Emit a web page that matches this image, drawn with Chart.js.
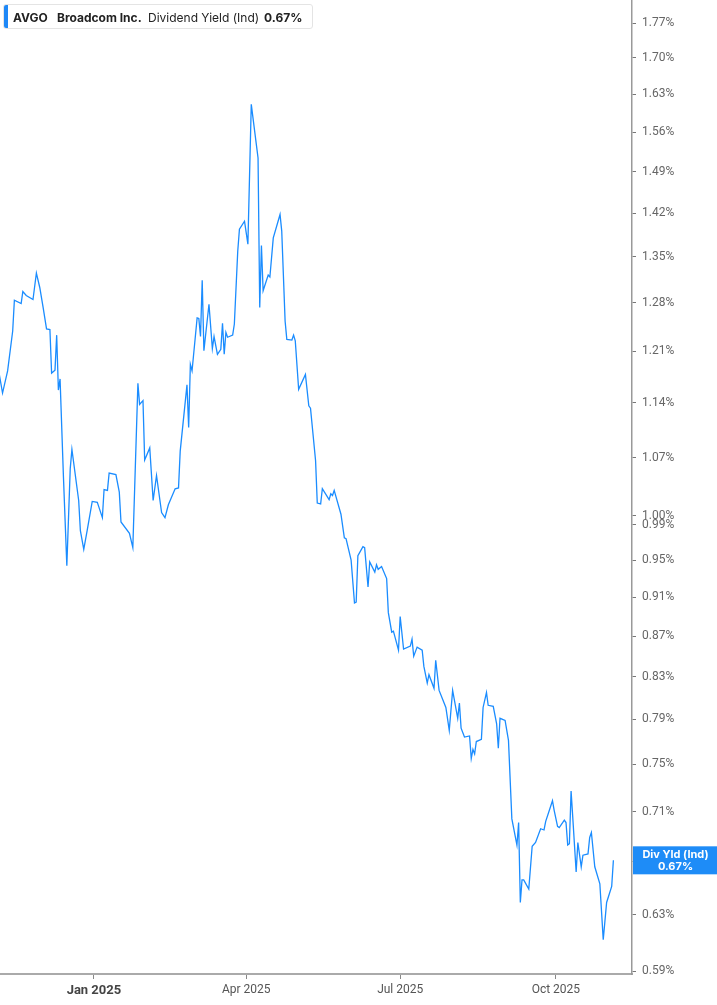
<!DOCTYPE html>
<html>
<head>
<meta charset="utf-8">
<script src="https://cdn.jsdelivr.net/npm/chart.js@4.4.1/dist/chart.umd.min.js"></script>
<style>
  body { margin: 0; background: #fff; }
  #wrap { position: relative; width: 717px; height: 1005px; }
  #legend {
    position: absolute; left: 3px; top: 4px; width: 310px; height: 25px;
    background: #fff; border: 1px solid #e4e4e4; border-radius: 3px;
    font-family: Inter, "Noto Sans", sans-serif; font-size: 12px; color: #222;
    line-height: 25px; box-sizing: border-box; white-space: nowrap;
  }
  #legend .bar { position: absolute; left: 0; top: 0; bottom: 0; width: 4px; background: #1e88f7; border-radius: 2px 0 0 2px; }
  #legend span { position: absolute; top: 0; }
</style>
</head>
<body>
<div id="wrap">
  <canvas id="grafico"></canvas>
  <div id="legend">
    <div class="bar"></div>
    <span style="left:9px;font-weight:700">AVGO</span>
    <span style="left:53px;font-weight:700">Broadcom Inc.</span>
    <span style="left:144px">Dividend Yield (Ind)</span>
    <span style="left:260px;font-weight:700">0.67%</span>
  </div>
</div>
<script>
// dias desde 2025-01-01
var dayOffsets = [-56,-54,-51,-48,-47,-43,-42,-40,-36,-34,-32,-30,-28,-26,-25,-23,-22,-21,-20,-18,
  -16,-14,-13,-9,-8,-6,-4,-1,2,3,5,6,8,9,13,15,16,21,23,26,27,29,30,33,35,37,40,42,44,48,50,51,
  55,56,57,58,61,62,63,64,65,68,70,71,73,75,76,77,78,79,82,83,85,86,89,91,93,97,98,99,100,103,104,
  106,110,111,113,114,117,118,119,121,125,127,128,131,132,134,135,139,140,141,142,146,148,149,152,
  154,155,156,159,160,162,163,166,167,168,170,173,174,176,177,180,181,183,187,188,189,191,194,195,
  197,198,201,202,204,208,210,212,215,216,217,219,222,223,224,225,226,229,230,232,233,236,238,239,
  240,243,245,247,250,251,252,253,254,257,259,261,264,266,267,271,272,274,275,278,279,280,281,282,
  283,285,286,288,289,292,293,294,296,299,301,303,306,307];

var yieldPct = [1.179,1.153,1.183,1.239,1.284,1.279,1.297,1.291,1.285,1.325,1.303,1.273,1.242,1.241,1.180,1.184,1.233,1.157,1.172,1.046,
  0.944,1.056,1.080,1.018,0.983,0.962,0.983,1.017,1.016,1.010,0.998,1.031,1.030,1.051,1.049,1.028,0.993,0.980,0.964,1.166,1.138,1.143,1.067,1.082,1.018,1.048,1.004,0.998,1.013,1.032,1.033,1.078,
  1.164,1.108,1.192,1.183,1.258,1.257,1.231,1.314,1.211,1.278,1.214,1.231,1.206,1.213,1.250,1.206,1.237,1.230,1.233,1.249,1.359,1.394,1.407,1.370,1.611,1.514,1.273,1.368,1.298,1.322,1.319,
  1.380,1.418,1.391,1.253,1.227,1.226,1.233,1.225,1.158,1.178,1.136,1.133,1.066,1.015,1.014,1.032,1.019,1.026,1.024,1.030,1.002,0.975,0.974,0.950,
  0.904,0.905,0.955,0.965,0.964,0.921,0.948,0.937,0.945,0.940,0.943,0.930,0.894,0.874,0.875,0.856,0.890,0.857,0.860,0.867,0.850,0.859,0.856,0.840,
  0.824,0.832,0.819,0.846,0.817,0.801,0.780,0.817,0.791,0.805,0.782,0.774,0.775,0.755,0.763,0.759,0.770,0.772,0.801,0.815,0.803,0.802,0.786,0.764,
  0.791,0.789,0.771,0.704,0.683,0.701,0.639,0.656,0.656,0.649,0.682,0.685,0.696,0.695,0.702,0.719,0.711,0.698,0.697,0.703,0.701,0.683,0.684,0.727,
  0.705,0.662,0.685,0.666,0.675,0.676,0.689,0.693,0.666,0.653,0.612,0.639,0.651,0.671];

var xTickDays = [0, 90, 181, 273];
var xTickLabels = ['Jan 2025', 'Apr 2025', 'Jul 2025', 'Oct 2025'];
var yTicks = [0.59,0.63,0.67,0.71,0.75,0.79,0.83,0.87,0.91,0.95,0.99,1.00,1.07,1.14,1.21,1.28,1.35,1.42,1.49,1.56,1.63,1.70,1.77];

var puntos = dayOffsets.map(function (d, i) { return { x: d, y: yieldPct[i] }; });
var ultimo = yieldPct[yieldPct.length - 1];

var etiquetaValor = {
  id: 'etiquetaValor',
  afterDraw: function (chart) {
    var c = chart.ctx, area = chart.chartArea;
    var y = chart.scales.y.getPixelForValue(ultimo);
    c.save();
    c.fillStyle = '#1e8cf7';
    c.fillRect(area.right + 1, y - 14, chart.width - area.right - 1, 28);
    c.fillStyle = '#fff';
    c.font = 'bold 11px Inter, "Noto Sans", sans-serif';
    c.textAlign = 'center';
    c.textBaseline = 'middle';
    var cx = (area.right + chart.width) / 2 + 1;
    c.fillText('Div Yld (Ind)', cx, y - 6);
    c.fillText(ultimo.toFixed(2) + '%', cx, y + 6);
    c.restore();
  }
};

var ctx = document.getElementById('grafico').getContext('2d');
var grafico = new Chart(ctx, {
  type: 'line',
  data: {
    datasets: [{
      data: puntos,
      borderColor: '#1a8cff',
      borderWidth: 1.3,
      pointRadius: 0,
      tension: 0,
      fill: false
    }]
  },
  options: {
    responsive: true,
    maintainAspectRatio: false,
    animation: false,
    layout: { padding: 0 },
    plugins: { legend: { display: false }, tooltip: { enabled: false } },
    scales: {
      x: {
        type: 'linear',
        min: -55.5,
        max: 318,
        afterBuildTicks: function (s) { s.ticks = xTickDays.map(function (v) { return { value: v }; }); },
        afterFit: function (s) { s.height = 31; s.paddingLeft = 0; s.paddingRight = 0; },
        grid: { drawOnChartArea: false, drawTicks: true, tickLength: 5, tickColor: '#888' },
        border: { color: '#aaa', width: 2 },
        ticks: {
          autoSkip: false,
          maxRotation: 0,
          padding: 4,
          color: function (c) { return c.tick && c.tick.value === 0 ? '#444' : '#555'; },
          font: function (c) {
            return c.tick && c.tick.value === 0
              ? { family: 'Roboto, sans-serif', size: 13, weight: 'bold' }
              : { family: 'Roboto, sans-serif', size: 12 };
          },
          callback: function (v) { var i = xTickDays.indexOf(v); return i >= 0 ? xTickLabels[i] : ''; }
        }
      },
      y: {
        type: 'logarithmic',
        position: 'right',
        min: 0.5882,
        max: 1.818,
        afterBuildTicks: function (s) { s.ticks = yTicks.map(function (v) { return { value: v }; }); },
        afterFit: function (s) { s.width = 85; s.paddingTop = 0; s.paddingBottom = 0; },
        grid: { drawOnChartArea: false, drawTicks: true, tickLength: 4, tickColor: '#777' },
        border: { color: '#999', width: 1.5 },
        ticks: {
          autoSkip: false,
          padding: 6,
          color: '#666',
          font: { family: 'Roboto, sans-serif', size: 12 },
          callback: function (v) { return Number(v).toFixed(2) + '%'; }
        }
      }
    }
  },
  plugins: [etiquetaValor]
});
</script>
</body>
</html>
